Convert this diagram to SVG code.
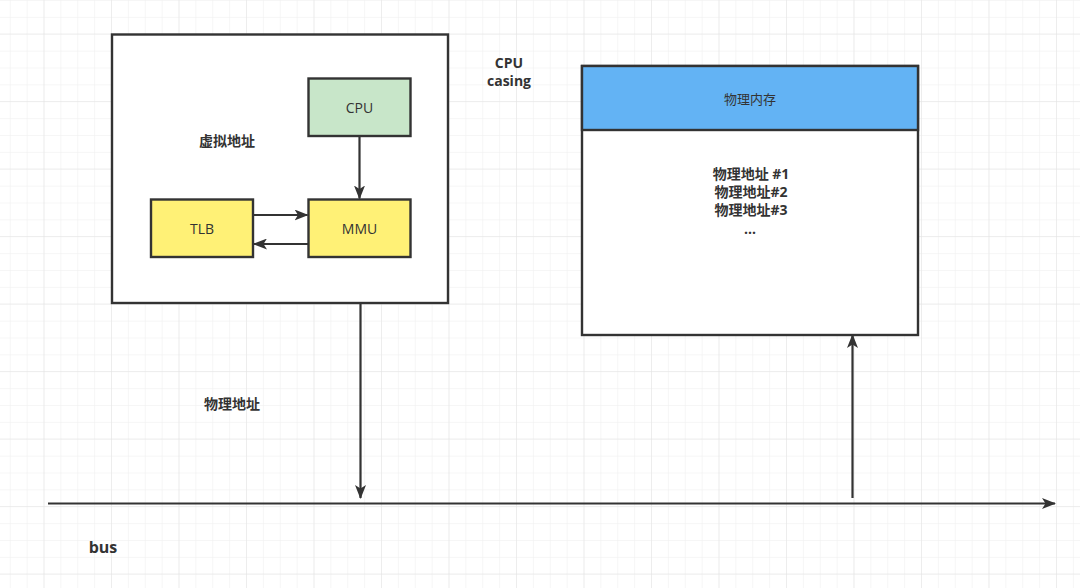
<svg xmlns="http://www.w3.org/2000/svg" width="1080" height="588" viewBox="0 0 1080 588">
<defs>
<pattern id="minor" x="9.75" y="0.0" width="16.875" height="16.875" patternUnits="userSpaceOnUse">
<path d="M 16.875 0 L 0 0 0 16.875" fill="none" stroke="#eeeeee" stroke-width="1"/>
</pattern>
<pattern id="major" x="43.5" y="101" width="67.5" height="67.5" patternUnits="userSpaceOnUse">
<path d="M 67.5 0 L 0 0 0 67.5" fill="none" stroke="#e3e3e3" stroke-width="1"/>
</pattern>
<marker id="arr" viewBox="0 0 14 11" refX="13" refY="5.5" markerWidth="14" markerHeight="11" markerUnits="userSpaceOnUse" orient="auto">
<path d="M0,0 L14,5.5 L0,11 L3.5,5.5 Z" fill="#333"/>
</marker>
</defs>
<style>
.box{stroke:#333;stroke-width:2.4}
.t{font-family:"Open Sans","Noto Sans CJK SC",sans-serif;fill:#333;text-anchor:middle;dominant-baseline:central}
.n{font-size:14px}
.b{font-size:14px;font-weight:bold}
.ln{fill:none;stroke:#333;stroke-width:2.2}
</style>
<rect width="1080" height="588" fill="#fff"/>
<rect width="1080" height="588" fill="url(#minor)"/>
<rect width="1080" height="588" fill="url(#major)"/>

<g id="cpu-casing">
<rect class="box" x="112" y="34.5" width="336" height="268.5" fill="#fff"/>
</g>
<g id="cpu">
<rect class="box" x="308.5" y="78.5" width="102" height="57.5" fill="#c8e6c9"/>
<text class="t n" x="359.5" y="107.5">CPU</text>
</g>
<g id="tlb">
<rect class="box" x="151" y="199.5" width="102" height="57.5" fill="#fff176"/>
<text class="t n" x="202" y="228.5">TLB</text>
</g>
<g id="mmu">
<rect class="box" x="308.5" y="199.5" width="102" height="57.5" fill="#fff176"/>
<text class="t n" x="359.5" y="228.5">MMU</text>
</g>
<g id="physical-memory">
<rect class="box" x="582" y="66" width="336" height="269" fill="#fff"/>
<rect class="box" x="582" y="66" width="336" height="64" fill="#63b3f4"/>
<text class="t n" x="750" y="98.5" style="font-size:13px">物理内存</text>
<text class="t b" x="751" y="173">物理地址 #1</text>
<text class="t b" x="751" y="191">物理地址#2</text>
<text class="t b" x="751" y="209">物理地址#3</text>
<text class="t b" x="750" y="228">...</text>
</g>
<g id="labels">
<text class="t b" x="227" y="140">虚拟地址</text>
<text class="t b" x="509" y="62">CPU</text>
<text class="t b" x="509" y="80">casing</text>
<text class="t b" x="232" y="403">物理地址</text>
<text class="t b" x="103" y="547" style="font-size:16px">bus</text>
</g>
<g id="connectors">
<line class="ln" x1="359.5" y1="137" x2="359.5" y2="198.5" marker-end="url(#arr)"/>
<line class="ln" x1="253" y1="215" x2="307.5" y2="215" marker-end="url(#arr)"/>
<line class="ln" x1="308.5" y1="244" x2="254" y2="244" marker-end="url(#arr)"/>
<line class="ln" x1="360.5" y1="304" x2="360.5" y2="498" marker-end="url(#arr)"/>
<line class="ln" x1="48" y1="503.5" x2="1055" y2="503.5" marker-end="url(#arr)"/>
<line class="ln" x1="852.5" y1="498" x2="852.5" y2="335" marker-end="url(#arr)"/>
</g>
</svg>
